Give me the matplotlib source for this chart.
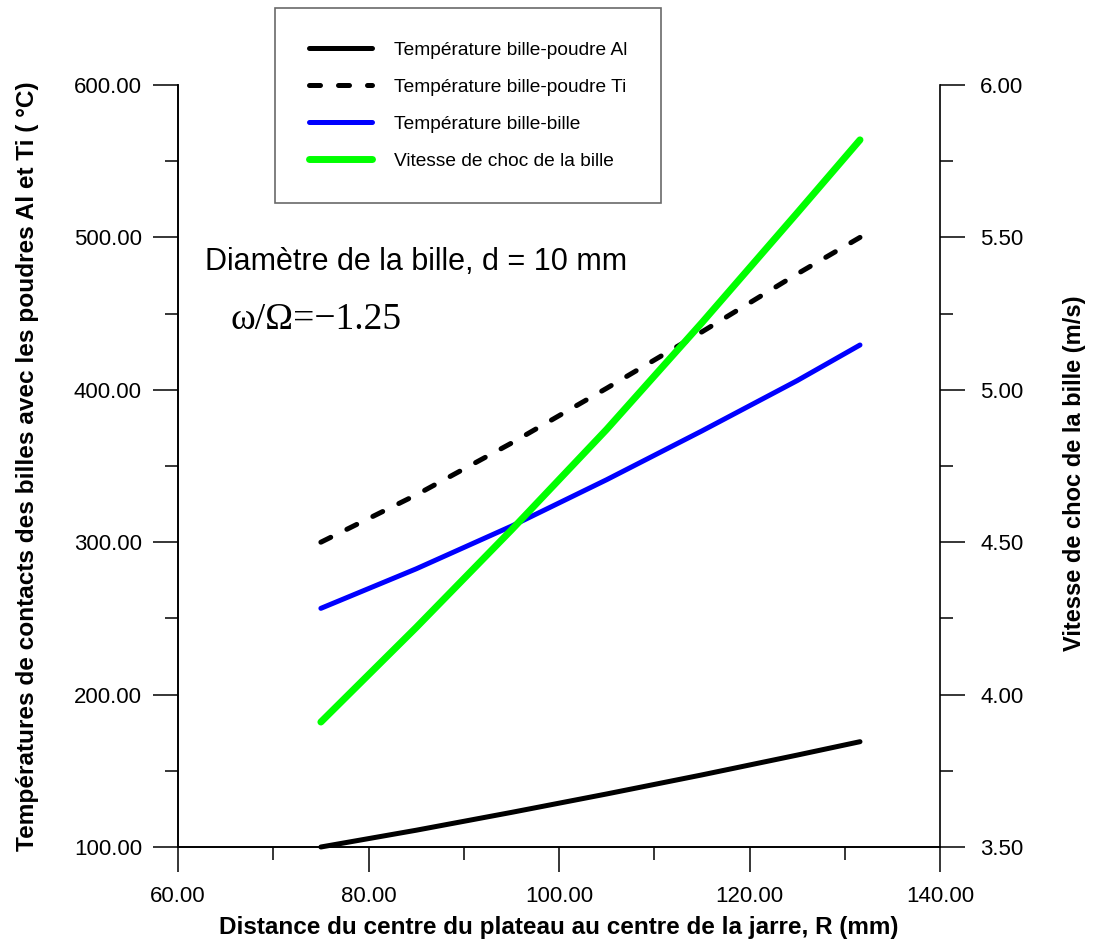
import matplotlib
matplotlib.use("Agg")
import matplotlib.pyplot as plt
from matplotlib.ticker import MultipleLocator, FormatStrFormatter

# distance R (mm)
R = [75, 85, 95, 105, 115, 125, 131.6]
T_Al = [100, 111, 122.7, 134.8, 147.3, 160.3, 169.1]
T_Ti = [300, 331, 365, 401, 438, 476, 500]
T_bb = [256.6, 282.5, 310.5, 341, 373, 406, 429.4]
V_choc = [3.91, 4.22, 4.54, 4.87, 5.22, 5.58, 5.82]

labels = ["Température bille-poudre Al", "Température bille-poudre Ti",
          "Température bille-bille", "Vitesse de choc de la bille"]

plt.rcParams["font.family"] = ["Liberation Sans", "DejaVu Sans"]

fig = plt.figure(figsize=(10.96, 9.42), dpi=100)
ax = fig.add_axes([178/1096, 1-847/942, 762/1096, 762/942])
ax2 = ax.twinx()

l1, = ax.plot(R, T_Al, color="black", lw=3.6, solid_capstyle="round", clip_on=False)
l2, = ax.plot(R, T_Ti, color="black", lw=3.6, dashes=[2.2, 3.6], dash_capstyle="round", clip_on=False)
l3, = ax.plot(R, T_bb, color="#0000ff", lw=3.6, solid_capstyle="round", clip_on=False)
l4, = ax2.plot(R, V_choc, color="#00ff00", lw=5, solid_capstyle="round", clip_on=False)

ax.set_xlim(60, 140)
ax.set_ylim(100, 600)
ax2.set_ylim(3.5, 6.0)

ax.xaxis.set_major_locator(MultipleLocator(20))
ax.xaxis.set_minor_locator(MultipleLocator(10))
ax.yaxis.set_major_locator(MultipleLocator(100))
ax.yaxis.set_minor_locator(MultipleLocator(50))
ax2.yaxis.set_major_locator(MultipleLocator(0.5))
ax2.yaxis.set_minor_locator(MultipleLocator(0.25))
ax.xaxis.set_major_formatter(FormatStrFormatter("%.2f"))
ax.yaxis.set_major_formatter(FormatStrFormatter("%.2f"))
ax2.yaxis.set_major_formatter(FormatStrFormatter("%.2f"))

for a in (ax, ax2):
    a.spines["top"].set_visible(False)
    for s in a.spines.values():
        s.set_linewidth(1.2)
ax.spines["right"].set_visible(False)

ax.tick_params(axis="y", which="major", direction="out", length=18, width=1.1, pad=8, labelsize=16)
ax.tick_params(axis="y", which="minor", direction="out", length=9.4, width=1.1)
ax.tick_params(axis="x", which="major", direction="out", length=18, width=1.1, pad=10, labelsize=16)
ax.tick_params(axis="x", which="minor", direction="out", length=9.4, width=1.1)
ax2.tick_params(axis="y", which="major", direction="out", length=18, width=1.1, pad=11, labelsize=16)
ax2.tick_params(axis="y", which="minor", direction="out", length=9.4, width=1.1)

ax.set_xlabel("Distance du centre du plateau au centre de la jarre, R (mm)",
              fontweight="bold", fontsize=17.5, va="center")
ax.set_ylabel("Températures de contacts des billes avec les poudres Al et Ti ( °C)",
              fontweight="bold", fontsize=17.6, va="center")
ax2.set_ylabel("Vitesse de choc de la bille (m/s)",
               fontweight="bold", fontsize=17, va="center")
ax.xaxis.set_label_coords(0.5, -0.106)
ax.yaxis.set_label_coords(-0.198, 0.5)
ax2.yaxis.set_label_coords(1.177, 0.49)

fig.text(205/1096, 1-262/942, "Diamètre de la bille, d = 10 mm", fontsize=22,
         ha="left", va="center")
fig.text(231/1096, 1-320/942, "ω/Ω=−1.25", family=["Liberation Serif", "DejaVu Serif"],
         fontsize=27, ha="left", va="center")

leg = fig.legend([l1, l2, l3, l4], labels, loc="upper left",
                 bbox_to_anchor=(275/1096, 1-8/942), borderaxespad=0,
                 fontsize=13.8, frameon=True, fancybox=False, edgecolor="#444444",
                 handlelength=3.3, handletextpad=1.15, labelspacing=1.02, borderpad=1.75)
leg.get_frame().set_linewidth(1.2)

fig.savefig("out.png", dpi=100)
